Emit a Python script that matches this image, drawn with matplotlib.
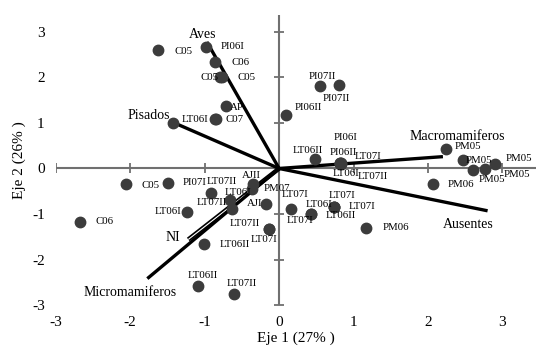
import matplotlib
matplotlib.use('Agg')
import matplotlib.pyplot as plt
import numpy as np

plt.rcParams['font.family'] = ['Liberation Serif', 'DejaVu Serif']
plt.rcParams['axes.unicode_minus'] = False

# puntos (scores) del biplot
pt_labels = ['C05', 'PI06I', 'C06', 'C05', 'C05', 'AP', 'LT06I', 'C07', '',
             'PI07II', 'PI07II', 'PI06II', 'LT06II',
             'PI06I', 'PI06II', 'LT07I', 'LT06I', 'LT07II',
             'PM05', 'PM05', 'PM05', 'PM05', 'PM05', 'PM06', 'PM06',
             'C05', 'PI07I', 'LT07II', 'LT06I', 'C06', 'LT06I', 'LT07II',
             'AJII', 'PM07', 'AJI', 'LT07I', 'LT06I', 'LT07I',
             'LT07I', 'LT07I', 'LT06II', 'LT07II', 'LT07I',
             'LT06II', 'LT06II', 'LT07II']
pt_x = [-1.63, -0.98, -0.86, -0.79, -0.77, -0.71, -0.86, -0.85, -1.42,
        0.55, 0.81, 0.09, 0.48,
        0.82, 0.82, 0.83, 0.82, 0.83,
        2.24, 2.47, 2.61, 2.77, 2.90, 2.07, 1.17,
        -2.06, -1.49, -0.91, -1.24, -2.67, -0.66, -0.63,
        -0.35, -0.36, -0.17, 0.16, 0.43, 0.43,
        0.74, 0.74, 0.74, -0.13, -0.13,
        -1.01, -1.09, -0.60]
pt_y = [2.60, 2.67, 2.33, 2.00, 2.00, 1.37, 1.08, 1.08, 1.01,
        1.81, 1.83, 1.17, 0.20,
        0.11, 0.11, 0.11, 0.10, 0.10,
        0.42, 0.18, -0.04, -0.02, 0.09, -0.35, -1.30,
        -0.35, -0.31, -0.53, -0.95, -1.17, -0.70, -0.88,
        -0.35, -0.46, -0.77, -0.90, -0.99, -0.99,
        -0.84, -0.84, -0.84, -1.32, -1.32,
        -1.67, -2.58, -2.75]

# vectores de variables
var_names = ['Aves', 'Pisados', 'Macromamiferos', 'Ausentes', 'NI', 'Micromamiferos']
var_x = [-0.97, -1.42, 2.20, 2.80, -1.22, -1.77]
var_y = [2.78, 1.01, 0.26, -0.93, -1.56, -2.42]

ticks = [-3, -2, -1, 0, 1, 2, 3]

# posicion de etiquetas (pixeles), no son datos
pt_off = [(17, -1, 'left'), (15, 0, 'left'), (16, 0, 'left'), (-2, 0, 'right'), (16, 0, 'left'),
          (4, -1, 'left'), (-7, 0, 'right'), (10, 0, 'left'), (0, 0, 'left'),
          (-11, 10, 'left'), (-17, -13, 'left'), (9, 8, 'left'), (-22, 9, 'left'),
          (-7, 26, 'left'), (-11, 11, 'left'), (14, 7, 'left'), (-8, -10, 'left'), (17, -13, 'left'),
          (9, 3, 'left'), (3, 0, 'left'), (5, -9, 'left'), (18, -5, 'left'), (11, 6, 'left'),
          (14, 0, 'left'), (16, 0, 'left'),
          (16, -1, 'left'), (14, 0, 'left'), (-5, 11, 'left'), (-5, 0, 'right'), (15, 0, 'left'),
          (-5, 8, 'left'), (-5, 6, 'right'),
          (-11, 9, 'left'), (11, 1, 'left'), (-4, 0, 'right'), (-9, 15, 'left'),
          (-5, 9, 'left'), (-24, -7, 'left'),
          (-6, 11, 'left'), (14, 0, 'left'), (-9, -9, 'left'), (-40, 5, 'left'), (-19, -11, 'left'),
          (16, 0, 'left'), (-10, 10, 'left'), (-8, 10, 'left')]
var_off = [(-4, 7, 'center'), (-3, 7, 'right'), (14, 20, 'center'),
           (-45, -14, 'left'), (-8, 2, 'right'), (-17, -14, 'center')]

fig = plt.figure(figsize=(5.36, 3.51), dpi=100)
ax = fig.add_axes([0.104, 0.131, 0.896, 0.826])
ax.set_xlim(-3, 3.45)
ax.set_ylim(-3, 3.37)
for s in ax.spines.values():
    s.set_visible(False)

axis_c = '#707070'
ax.axhline(0, color=axis_c, lw=1.5, zorder=1)
ax.axvline(0, color=axis_c, lw=1.5, zorder=1)
ax.plot(ticks, np.zeros(len(ticks)), ls='none', marker='|', ms=7, mew=1.3, color=axis_c, zorder=1)
ax.plot(np.zeros(len(ticks)), ticks, ls='none', marker='_', ms=7, mew=1.3, color=axis_c, zorder=1)

ax.set_xticks(ticks)
ax.set_yticks(ticks)
ax.tick_params(length=0, labelsize=11, pad=8)

# vectores
for i, (n, vx, vy) in enumerate(zip(var_names, var_x, var_y)):
    if n == 'NI':
        ax.plot([0, vx], [0, vy], color='black', lw=3.2, solid_capstyle='butt', zorder=2)
        ax.plot([0, vx], [0, vy], color='white', lw=0.8, solid_capstyle='butt', zorder=2)
    else:
        ax.plot([0, vx], [0, vy], color='black', lw=2.4, solid_capstyle='butt', zorder=3)
    dx, dy, ha = var_off[i]
    ax.annotate(n, (vx, vy), xytext=(dx, dy), textcoords='offset pixels',
                ha=ha, va='center', fontsize=10, zorder=5)

# puntos
ax.plot(pt_x, pt_y, ls='none', marker='o', ms=7.5, color='#3c3c3c', zorder=4)
for i, lbl in enumerate(pt_labels):
    if not lbl:
        continue
    dx, dy, ha = pt_off[i]
    ax.annotate(lbl, (pt_x[i], pt_y[i]), xytext=(dx, dy), textcoords='offset pixels',
                ha=ha, va='center', fontsize=7.8, zorder=5)

ax.set_xlabel('Eje 1 (27% )', fontsize=11, labelpad=2)
ax.set_ylabel('Eje 2 (26% )', fontsize=11, labelpad=4)

plt.savefig('out.png', dpi=100)
